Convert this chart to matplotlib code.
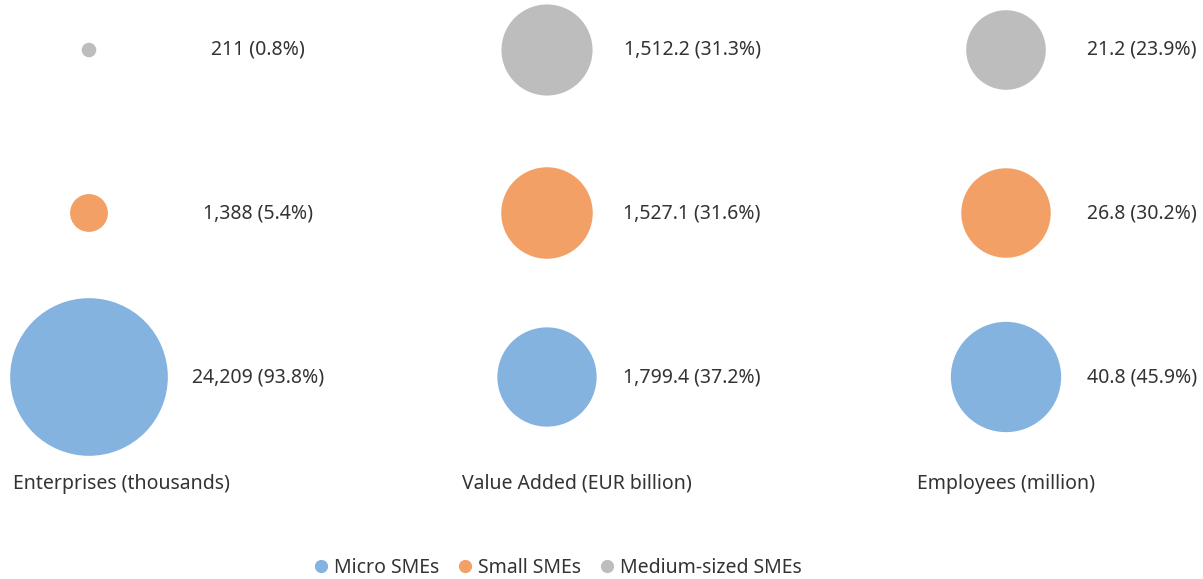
import matplotlib.pyplot as plt
import numpy as np

plt.rcParams['font.family'] = ['Noto Sans', 'DejaVu Sans']

# data
metrics = ['Enterprises (thousands)', 'Value Added (EUR billion)', 'Employees (million)']
sizes = ['Micro SMEs', 'Small SMEs', 'Medium-sized SMEs']
colors = ['#84b3e0', '#f2a066', '#bdbdbd']

micro_vals = ['24,209', '1,799.4', '40.8']
small_vals = ['1,388', '1,527.1', '26.8']
medium_vals = ['211', '1,512.2', '21.2']
micro_pct = [93.8, 37.2, 45.9]
small_pct = [5.4, 31.6, 30.2]
medium_pct = [0.8, 31.3, 23.9]

# layout (pixel coordinates)
W, H = 1203, 579
col_x = [89, 547, 1006]
row_y = [377, 213, 50]          # micro, small, medium
label_dx = [169, 145, 136]
title_x = [121, 577, 1006]
title_y = 484
text_col = '#333333'
fs = 14

fig = plt.figure(figsize=(W / 100, H / 100), dpi=100)
ax = fig.add_axes([0, 0, 1, 1])
ax.set_xlim(0, W)
ax.set_ylim(H, 0)
ax.axis('off')

vals = [micro_vals, small_vals, medium_vals]
pcts = [micro_pct, small_pct, medium_pct]

for i, name in enumerate(sizes):
    r = 8.14 * np.sqrt(np.array(pcts[i]))      # radius in px, area ~ share
    s = (2 * r * 0.72) ** 2
    ax.scatter(col_x, [row_y[i]] * 3, s=s, color=colors[i], linewidths=0, label=name)
    for j in range(3):
        ax.text(col_x[j] + label_dx[j], row_y[i], f'{vals[i][j]} ({pcts[i][j]}%)',
                ha='center', va='center', fontsize=fs, color=text_col)

for j, m in enumerate(metrics):
    ax.text(title_x[j], title_y, m, ha='center', va='center', fontsize=fs, color=text_col)

handles = [plt.Line2D([], [], marker='o', ls='', color=c, markersize=8.5) for c in colors]
leg = fig.legend(handles, sizes, loc='center', bbox_to_anchor=(556 / W, 1 - 568 / H),
                 ncol=3, frameon=False, fontsize=fs, handletextpad=0.1,
                 columnspacing=0.8, handlelength=1.1)
for t in leg.get_texts():
    t.set_color(text_col)

fig.savefig('out.png', dpi=100)
